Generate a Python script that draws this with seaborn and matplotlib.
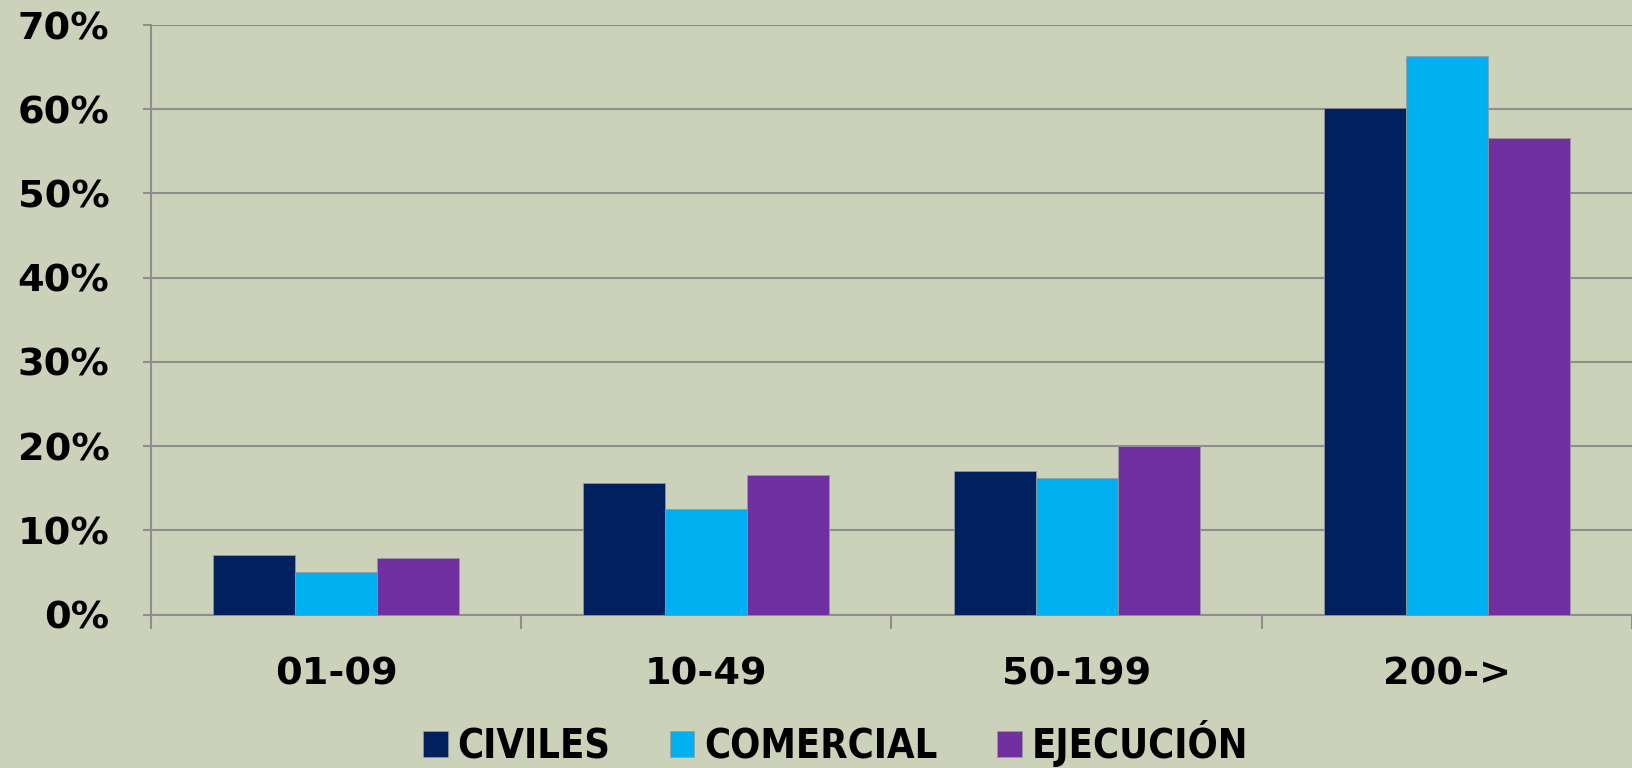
import matplotlib
matplotlib.use("Agg")
import matplotlib.pyplot as plt
from matplotlib.ticker import PercentFormatter, FixedLocator
import seaborn as sns
import pandas as pd

categories = ["01-09", "10-49", "50-199", "200->"]
series_names = ["CIVILES", "COMERCIAL", "EJECUCIÓN"]
civiles = [0.0705, 0.156, 0.171, 0.602]
comercial = [0.0507, 0.125, 0.162, 0.663]
ejecucion = [0.0668, 0.166, 0.200, 0.566]
colors = ["#002060", "#00B0F0", "#7030A0"]
yticks = [0, 0.1, 0.2, 0.3, 0.4, 0.5, 0.6, 0.7]

bg = "#CCD1B9"
grid_c = "#8E8E8E"

rows = []
for name, vals in zip(series_names, [civiles, comercial, ejecucion]):
    for c, v in zip(categories, vals):
        rows.append({"cat": c, "serie": name, "val": v})
df = pd.DataFrame(rows)

sns.set_theme(style="white")
plt.rcParams["font.family"] = ["DejaVu Sans"]

fig = plt.figure(figsize=(16.32, 7.68), dpi=100, facecolor=bg)
ax = fig.add_axes([0.0925, 0.1998, 0.9075, 0.7676])
ax.set_facecolor(bg)

sns.barplot(data=df, x="cat", y="val", hue="serie", order=categories,
            hue_order=series_names, palette=dict(zip(series_names, colors)),
            width=0.664, gap=0, saturation=1, edgecolor="#9a9a9a", linewidth=0.5,
            ax=ax, legend=True, zorder=3)

ax.set_xlim(-0.5, len(categories) - 0.5)
ax.set_ylim(0, 0.70)
ax.yaxis.set_major_locator(FixedLocator(yticks))
ax.yaxis.set_major_formatter(PercentFormatter(1.0, decimals=0))
ax.grid(axis="y", color=grid_c, linewidth=1.5, zorder=0)
ax.set_axisbelow(True)
ax.set_xlabel("")
ax.set_ylabel("")

for s in ["top", "right"]:
    ax.spines[s].set_visible(False)
for s in ["left", "bottom"]:
    ax.spines[s].set_color(grid_c)
    ax.spines[s].set_linewidth(1.5)

ax.tick_params(axis="y", which="major", length=6, width=1.5, color=grid_c,
               labelsize=27.5, pad=24, left=True)
ax.tick_params(axis="x", which="major", length=0, labelsize=27.5, pad=30)
ax.set_xticks([i - 0.5 for i in range(len(categories) + 1)], minor=True)
ax.tick_params(axis="x", which="minor", length=10, width=1.5, color=grid_c, bottom=True)
for lab in ax.get_xticklabels() + ax.get_yticklabels():
    lab.set_fontweight("bold")
    lab.set_color("black")

handles, labels = ax.get_legend_handles_labels()
ax.get_legend().remove()
fig.legend(handles, labels, loc="upper center", bbox_to_anchor=(0.512, 0.088),
           ncol=3, frameon=False, borderpad=0, handlelength=0.62, handleheight=0.62,
           handletextpad=0.25, columnspacing=1.5, labelcolor="black",
           prop={"family": ["DejaVu Sans"], "stretch": "condensed", "weight": "bold", "size": 28.5})

fig.savefig("out.png", dpi=100, facecolor=bg)
